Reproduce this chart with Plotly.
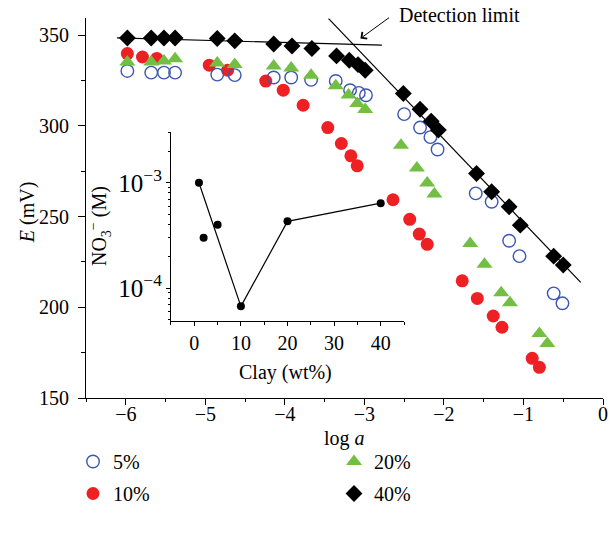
import plotly.graph_objects as go

# ---------------- data ----------------
x5 = [-5.98, -5.68, -5.52, -5.38, -4.85, -4.63, -4.14, -3.92, -3.67, -3.36, -3.18, -3.07,
      -2.98, -2.50, -2.30, -2.17, -2.08, -1.60, -1.40, -1.18, -1.05, -0.62, -0.51]
e5 = [330.3, 329.4, 329.4, 329.4, 328.3, 328.0, 326.7, 326.7, 325.4, 324.8, 319.7, 318.2,
      316.9, 306.5, 299.1, 293.8, 287.0, 262.8, 258.2, 236.7, 228.2, 207.7, 202.2]

x10 = [-5.98, -5.79, -5.61, -4.95, -4.72, -4.24, -4.02, -3.77, -3.46, -3.29, -3.17, -3.09,
       -2.64, -2.43, -2.31, -2.21, -1.77, -1.58, -1.38, -1.27, -0.89, -0.80]
e10 = [339.9, 338.0, 337.2, 333.5, 330.7, 324.7, 319.7, 311.4, 299.1, 290.3, 283.5, 278.0,
       259.3, 248.5, 240.4, 234.7, 214.6, 204.9, 195.2, 189.0, 171.9, 166.9]

x20 = [-5.98, -5.68, -5.52, -5.38, -4.85, -4.63, -4.14, -3.92, -3.67, -3.36, -3.20, -3.09,
       -2.99, -2.54, -2.34, -2.21, -2.12, -1.67, -1.49, -1.28, -1.17, -0.80, -0.70]
e20 = [335.3, 335.3, 335.8, 337.1, 334.7, 333.8, 333.0, 332.0, 328.0, 322.1, 317.0, 312.4,
       309.1, 289.4, 276.8, 268.5, 262.4, 235.2, 223.8, 208.0, 202.5, 185.6, 180.1]

x40 = [-5.98, -5.68, -5.52, -5.38, -4.85, -4.63, -4.14, -3.91, -3.66, -3.35, -3.19, -3.08,
       -2.99, -2.51, -2.30, -2.16, -2.07, -1.59, -1.40, -1.18, -1.04, -0.62, -0.50]
e40 = [348.5, 348.5, 348.5, 348.5, 348.2, 346.9, 345.2, 344.1, 342.7, 338.6, 336.2, 333.8,
       330.7, 317.9, 309.2, 302.6, 297.7, 273.8, 263.7, 255.4, 245.3, 228.2, 223.3]

# fitted lines
flat_x = [-6.11, -2.78]
flat_e = [348.5, 344.5]
steep_x = [-3.45, -0.28]
steep_e = [359.2, 213.7]

# inset: detection limit vs clay content
clay = [1, 2, 5, 10, 20, 40]
no3 = [1.0e-3, 3.0e-4, 4.0e-4, 6.7e-5, 4.3e-4, 6.4e-4]
line_idx = [0, 3, 4, 5]

series_names = ["5%", "10%", "20%", "40%"]
x_ticks = [-6, -5, -4, -3, -2, -1, 0]
y_ticks = [150, 200, 250, 300, 350]

FONT = "Liberation Serif"
FS = 20

fig = go.Figure()

fig.add_trace(go.Scatter(x=flat_x, y=flat_e, mode="lines", line=dict(color="black", width=1.2),
                         showlegend=False, hoverinfo="skip"))
fig.add_trace(go.Scatter(x=steep_x, y=steep_e, mode="lines", line=dict(color="black", width=1.2),
                         showlegend=False, hoverinfo="skip"))

fig.add_trace(go.Scatter(x=x10, y=e10, mode="markers", name=series_names[1],
                         marker=dict(symbol="circle", size=13, color="#ee2024"),
                         legend="legend", legendgroup="b", legendrank=2))
fig.add_trace(go.Scatter(x=x5, y=e5, mode="markers", name=series_names[0],
                         marker=dict(symbol="circle-open", size=12.5, color="#3a56b0",
                                     line=dict(width=1.4)),
                         legend="legend", legendgroup="a", legendrank=1))
fig.add_trace(go.Scatter(x=x20, y=e20, mode="markers", name=series_names[2],
                         marker=dict(symbol="triangle-up", size=14, color="#72bf44"),
                         legend="legend2", legendgroup="c", legendrank=3))
fig.add_trace(go.Scatter(x=x40, y=e40, mode="markers", name=series_names[3],
                         marker=dict(symbol="diamond", size=13, color="black"),
                         legend="legend2", legendgroup="d", legendrank=4))

# inset
fig.add_trace(go.Scatter(x=[clay[i] for i in line_idx], y=[no3[i] for i in line_idx],
                         mode="lines", line=dict(color="black", width=1.2),
                         xaxis="x2", yaxis="y2", showlegend=False))
fig.add_trace(go.Scatter(x=clay, y=no3, mode="markers", marker=dict(size=8, color="black"),
                         xaxis="x2", yaxis="y2", showlegend=False))

axis_common = dict(showline=True, linecolor="black", linewidth=1, showgrid=False,
                   zeroline=False, ticks="outside", tickcolor="black", tickwidth=1,
                   automargin=False,
                   tickfont=dict(family=FONT, size=FS, color="black"))

fig.update_layout(
    width=610, height=541,
    margin=dict(l=86, r=7, t=18, b=143, autoexpand=False),
    paper_bgcolor="white", plot_bgcolor="rgba(0,0,0,0)",
    font=dict(family=FONT, size=FS, color="black"),
    xaxis=dict(**axis_common, domain=[0, 1], range=[-6.5, 0], tickvals=x_ticks, ticklen=6,
               ticklabelstandoff=-8,
               minor=dict(ticks="outside", ticklen=3, dtick=0.5, tickcolor="black")),
    yaxis=dict(**axis_common, domain=[0, 1], range=[150, 359.5], tickvals=y_ticks, ticklen=7,
               ticklabelstandoff=5,
               minor=dict(ticks="outside", ticklen=4, dtick=25, tickcolor="black")),
    xaxis2=dict(**axis_common, domain=[0.1644, 0.6151], anchor="y2", range=[-5, 45],
                dtick=10, tick0=0, ticklen=4,
                minor=dict(ticks="outside", ticklen=3, dtick=5, tickcolor="black")),
    yaxis2=dict(**axis_common, domain=[0.2026, 0.70], anchor="x2", type="log",
                range=[-4.313, -2.518], dtick=1, exponentformat="power", ticklen=4,
                minor=dict(ticks="outside", ticklen=2, dtick="D1", tickcolor="black")),
    legend=dict(x=73 / 610, y=1 - 442 / 541, xref="container", yref="container",
                xanchor="left", yanchor="top", traceorder="grouped", tracegroupgap=3,
                bgcolor="rgba(0,0,0,0)", font=dict(family=FONT, size=FS, color="black")),
    legend2=dict(x=334 / 610, y=1 - 442 / 541, xref="container", yref="container",
                 xanchor="left", yanchor="top", traceorder="grouped", tracegroupgap=3,
                 bgcolor="rgba(0,0,0,0)", font=dict(family=FONT, size=FS, color="black")),
    showlegend=True,
)

title_font = dict(family=FONT, size=FS, color="black")
# axis titles
fig.add_annotation(x=-0.114, y=0.489, xref="paper", yref="paper", text="<i>E</i> (mV)",
                   textangle=-90, showarrow=False, xanchor="center", yanchor="middle",
                   font=title_font)
fig.add_annotation(x=0.5, y=-0.1065, xref="paper", yref="paper", text="log <i>a</i>",
                   showarrow=False, xanchor="center", yanchor="middle", font=title_font)
fig.add_annotation(x=0.3868, y=0.0684, xref="paper", yref="paper", text="Clay (wt%)",
                   showarrow=False, xanchor="center", yanchor="middle", font=title_font)
fig.add_annotation(x=0.0271, y=0.4526, xref="paper", yref="paper",
                   text="NO<sub>3</sub><sup>−</sup> (M)", textangle=-90,
                   showarrow=False, xanchor="center", yanchor="middle", font=title_font)

# detection limit arrow and label
fig.add_annotation(x=-3.05, y=348.2, ax=-2.67, ay=360.3, xref="x", yref="y",
                   axref="x", ayref="y", text="", showarrow=True, arrowhead=4,
                   arrowsize=1.6, arrowwidth=1, arrowcolor="black")
fig.add_annotation(x=-2.585, y=1.008, xref="x", yref="paper", text="Detection limit",
                   showarrow=False, xanchor="left", yanchor="middle", font=title_font)

fig.write_html("out.html")
